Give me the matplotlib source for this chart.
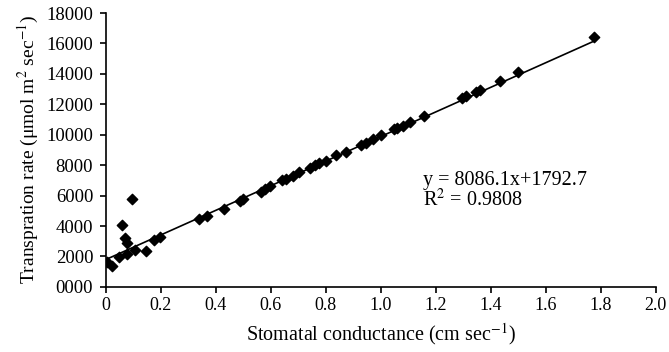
import matplotlib
matplotlib.use("Agg")
import matplotlib.pyplot as plt
import numpy as np

plt.rcParams['font.family'] = ['Liberation Serif', 'DejaVu Serif']
plt.rcParams['mathtext.fontset'] = 'stix'

# stomatal conductance (cm/sec) vs transpiration rate
conductance = [0.004, 0.022, 0.047, 0.058, 0.069, 0.076, 0.076, 0.094, 0.105, 0.146,
               0.177, 0.198, 0.340, 0.368, 0.430, 0.490, 0.500, 0.563, 0.580, 0.597,
               0.640, 0.655, 0.682, 0.704, 0.744, 0.760, 0.775, 0.801, 0.838, 0.874,
               0.930, 0.945, 0.971, 1.000, 1.050, 1.060, 1.083, 1.108, 1.159, 1.295,
               1.310, 1.345, 1.360, 1.433, 1.500, 1.776]
transpiration = [1650, 1380, 1970, 4100, 3200, 2900, 2170, 5750, 2400, 2350,
                 3090, 3250, 4450, 4650, 5150, 5650, 5750, 6240, 6420, 6600,
                 7000, 7100, 7290, 7550, 7820, 8000, 8150, 8280, 8670, 8870,
                 9350, 9450, 9720, 9950, 10350, 10420, 10580, 10840, 11250, 12420,
                 12550, 12800, 12950, 13500, 14100, 16400]

slope, intercept = 8086.1, 1792.7
line_x = [0.0, 1.78]

fig = plt.figure(figsize=(6.69, 3.52), dpi=100)
ax = fig.add_axes([0.158, 0.185, 0.822, 0.778])

ax.plot(line_x, [slope * v + intercept for v in line_x], color='black', lw=1.2, zorder=2)
ax.scatter(conductance, transpiration, marker='D', s=28, color='black', zorder=3)

ax.set_xlim(0, 2.0)
ax.set_ylim(0, 18000)
xt = np.arange(0, 2.01, 0.2)
ax.set_xticks(xt)
ax.set_xticklabels(['0'] + ['%.1f' % v for v in xt[1:]])
yt = np.arange(0, 18001, 2000)
ax.set_yticks(yt)
ax.set_yticklabels(['%04d' % v for v in yt])
ax.tick_params(labelsize=13.5, direction='out', length=4, width=1.2)
ax.tick_params(axis='x', labelsize=13, pad=3)
ax.tick_params(axis='y', pad=5)
for s in ['top', 'right']:
    ax.spines[s].set_visible(False)
for s in ['left', 'bottom']:
    ax.spines[s].set_linewidth(1.2)

ax.set_xlabel(r'Stomatal conductance (cm sec$^{-1}$)', fontsize=14.5, labelpad=5)
ax.set_ylabel(r'Transpration rate (μmol m$^{2}$ sec$^{-1}$)', fontsize=14, labelpad=4)

ax.text(1.155, 6960, 'y = 8086.1x+1792.7', fontsize=14.5, va='center')
ax.text(1.155, 5720, r'R$^{2}$ = 0.9808', fontsize=14.5, va='center')

fig.savefig('out.png', dpi=100)
